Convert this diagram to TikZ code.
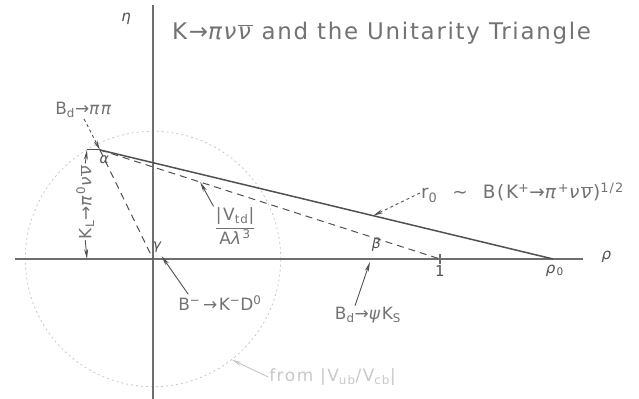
\documentclass[tikz,border=0pt]{standalone}
\usepackage{fontspec}
\setmainfont{DejaVu Sans}
\newfontfamily\utlabelfont[LetterSpace=9]{DejaVu Sans}
\newfontfamily\uttitlefont[LetterSpace=7.5]{DejaVu Sans}
\usetikzlibrary{arrows.meta, calc}
\definecolor{utink}{HTML}{505050}
\definecolor{utaxis}{HTML}{6E6E6E}
\definecolor{uttext}{HTML}{727272}
\definecolor{utfaint}{HTML}{C8C8C8}
\newcommand{\gk}[1]{\textit{#1}}
\newcommand{\nubar}{$\overline{\hbox{\gk{ν}}}$}
\tikzset{
  axisline/.style={draw=utaxis, line width=1.1pt},
  sideline/.style={draw=utink, line width=1.5pt},
  dashside/.style={draw=utink, line width=1pt, dash pattern=on 7bp off 5bp},
  boundcircle/.style={draw=utfaint, line width=0.8pt, dash pattern=on 2bp off 3bp},
  decaylabel/.style={text=uttext, font=\utlabelfont\fontsize{17}{20}\selectfont, inner sep=1pt},
  axislabel/.style={text=utink, font=\utlabelfont\fontsize{15}{17}\selectfont, inner sep=0pt},
  anglelabel/.style={text=utink, font=\utlabelfont\fontsize{14}{16}\selectfont, inner sep=0pt},
  titlelabel/.style={text=uttext, font=\uttitlefont\fontsize{23}{27}\selectfont, anchor=west, inner sep=0pt},
  pointarrow/.style={-{Stealth[length=10bp,width=4bp]}, draw=utink, line width=0.9pt},
  faintarrow/.style={pointarrow, draw=utfaint, fill=utfaint}
}

\begin{document}
\begin{tikzpicture}[x=287bp,y=287bp]
\useasboundingbox (-0.5331,-0.4878) rectangle (1.6934,0.9024);

\coordinate (O) at (0,0);
\coordinate (A) at (-0.185,0.380);
\coordinate (one) at (1,0);
\coordinate (rho0) at (1.394,0);
\coordinate (xleft) at (-0.481,0);
\coordinate (xright) at (1.498,0);
\coordinate (ytop) at (0,0.885);
\coordinate (ybot) at (0,-0.4878);
\coordinate (ktop) at (-0.230,0.380);
\coordinate (kbot) at (-0.230,0);

\draw[boundcircle] (O) circle (0.445);
\draw[axisline] (xleft) -- (xright);
\draw[axisline] (ytop) -- (ybot);
\draw[axisline] ($(one)+(0,-0.018)$) -- ($(one)+(0,0.018)$);

\draw[sideline] (A) -- (rho0);
\draw[dashside] (A) -- (O);
\draw[dashside] (A) -- (one);

\node[titlelabel] (title) at (0.066,0.787)
  {K→\gk{πν}\nubar{} and the Unitarity Triangle};
\node[axislabel] (etaaxis) at (-0.091,0.836) {\gk{η}};
\node[axislabel] (rhoaxis) at (1.582,0.007) {\gk{ρ}};
\node[axislabel, anchor=north] (onelbl) at (1,-0.022) {1};
\node[axislabel] (rholbl) at (1.40,-0.040) {\gk{ρ}\textsubscript{0}};

\node[anglelabel] (alpha) at (-0.168,0.345) {\gk{α}};
\node[anglelabel] (gamma) at (0.017,0.042) {\gk{γ}};
\node[anglelabel] (beta) at (0.780,0.049) {\gk{β}};

\node[decaylabel] (bdpp) at (-0.240,0.519) {B\textsubscript{d}→\gk{ππ}};
\node[decaylabel, rotate=90] (klong) at (-0.236,0.199)
  {K\textsubscript{L}→\gk{π}\textsuperscript{0}\gk{ν}\nubar};
\node[decaylabel] (vtd) at (0.286,0.115)
  {$\displaystyle\frac{\hbox{|V\textsubscript{td}|}}{\hbox{A\gk{λ}\textsuperscript{3}}}$};
\node[decaylabel] (bkd) at (0.233,-0.153) {B\textsuperscript{−}\,→K\textsuperscript{−}D\textsuperscript{0}};
\node[decaylabel] (bpsi) at (0.749,-0.195) {B\textsubscript{d}→\gk{ψ}K\textsubscript{S}};
\node[decaylabel, anchor=west, font=\utlabelfont\fontsize{18.5}{21}\selectfont] (rzero) at (0.930,0.230)
  {r\textsubscript{0} \ ∼ \ B(K\textsuperscript{+}→\gk{π}\textsuperscript{+}\gk{ν}\nubar)\textsuperscript{1/2}};
\node[decaylabel, text=utfaint, anchor=west] (vub) at (0.401,-0.411)
  {from |V\textsubscript{ub}/V\textsubscript{cb}|};

\coordinate (vtdhit) at ($(A)!0.295!(one)$);
\coordinate (rhit) at ($(A)!0.603!(rho0)$);
\coordinate (gammahit) at (0.030,0.010);
\coordinate (betahit) at (0.756,-0.010);
\coordinate (circhit) at (-52:0.445);

\draw[pointarrow, dashed] (bdpp.south) -- (A);
\draw[utink, line width=0.9pt] (ktop) -- (A);
\draw[pointarrow] (klong.east) -- (ktop);
\draw[pointarrow] (klong.west) -- (kbot);
\draw[pointarrow] (vtd.north west) -- (vtdhit);
\draw[pointarrow] ($(bkd.north west)!0.13!(bkd.north east)$) -- (gammahit);
\draw[pointarrow] ($(bpsi.north west)!0.31!(bpsi.north east)$) -- (betahit);
\draw[pointarrow, dashed] (rzero.west) -- (rhit);
\draw[faintarrow] (vub.west) -- (circhit);
\end{tikzpicture}
\end{document}
